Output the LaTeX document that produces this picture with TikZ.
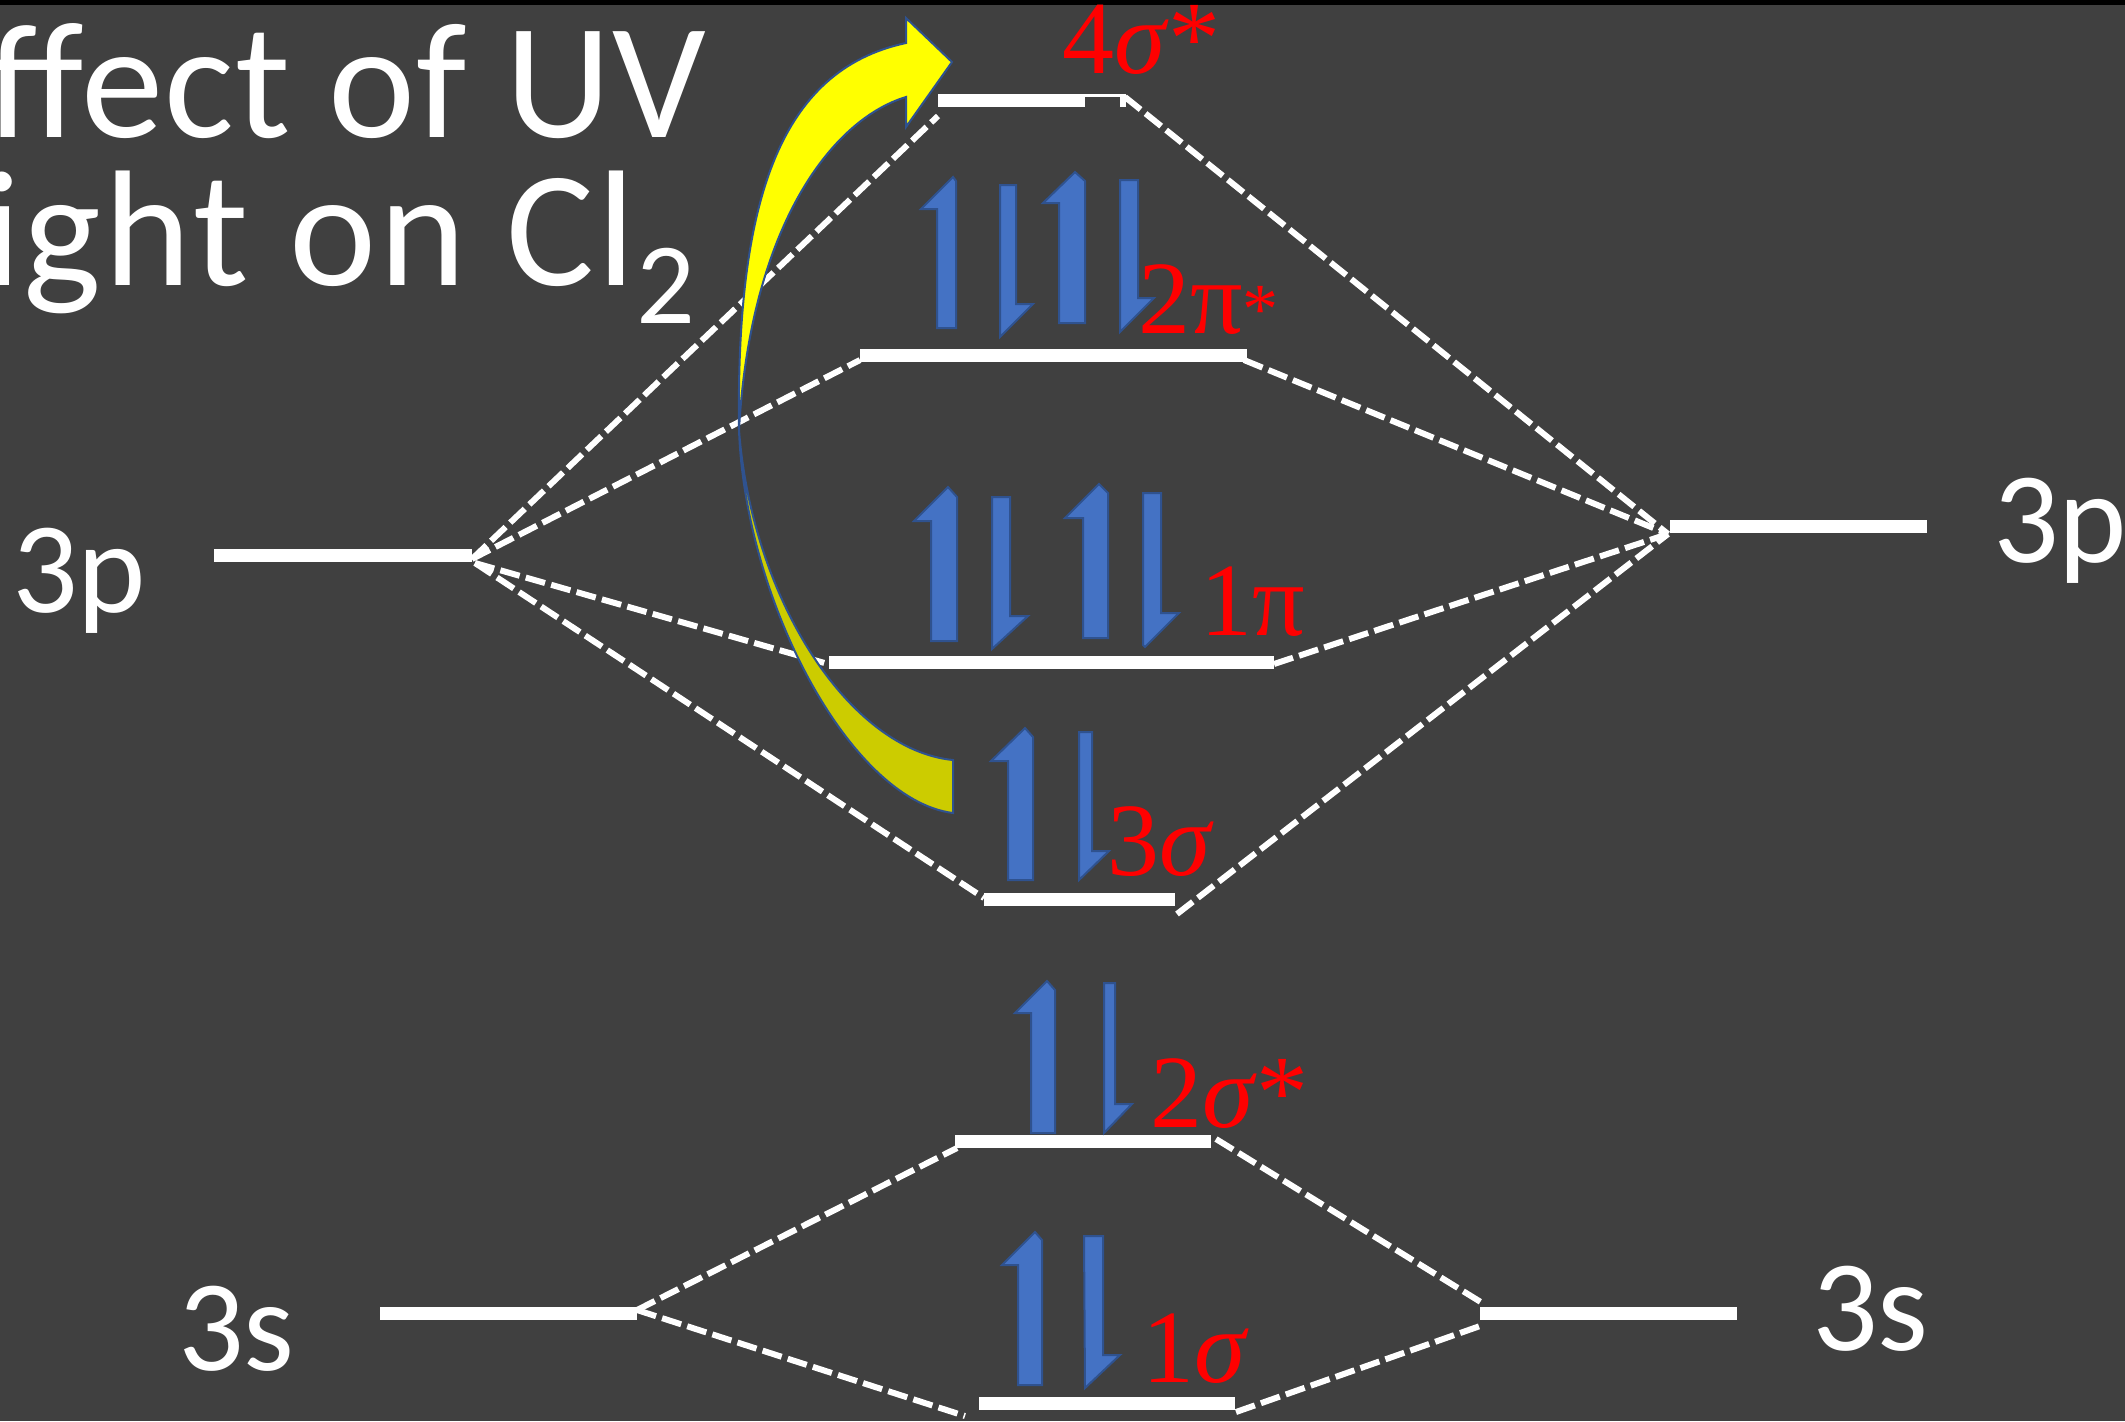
\documentclass[tikz,border=0pt]{standalone}
\usepackage{fontspec}
\setmainfont{Carlito}
\newfontfamily\lblfont{Liberation Serif}
\definecolor{bg}{HTML}{404040}
\definecolor{eblue}{HTML}{4472C4}
\definecolor{eedge}{HTML}{2F528F}
\definecolor{yel}{HTML}{FFFF00}
\definecolor{olive}{HTML}{CCCC00}
\tikzset{
  bar/.style={line width=6.5pt, white},
  link/.style={white, line width=3pt, dash pattern=on 10pt off 3.2pt},
  electron/.style={fill=eblue, draw=eedge, line width=1pt, line join=miter},
  lvl/.style={text=white, font=\fontsize{65}{65}\selectfont, inner sep=0pt, outer sep=0pt, anchor=base west},
  molab/.style={text=red, font=\lblfont\fontsize{52}{52}\selectfont, inner sep=0pt, outer sep=0pt, anchor=base west},
  ttl/.style={text=white, font=\fontsize{82.5}{82.5}\selectfont, inner sep=0pt, outer sep=0pt, anchor=base west},
  uvarrow/.style={draw=eedge, line width=1pt, line join=miter},
}
\begin{document}
\begin{tikzpicture}[x=0.5pt,y=-0.5pt]
\useasboundingbox (0,0) rectangle (2125,1421);
\clip (0,0) rectangle (2125,1421);
\fill[bg] (0,0) rectangle (2125,1421);
\fill[black] (0,0) rectangle (2125,5);

% title
\node[ttl] (t1) at (-12,137) {\addfontfeature{LetterSpace=0.6}ffect of UV};
\node[ttl] (t2) at (-17,285) {\addfontfeature{LetterSpace=2}ight on Cl\raisebox{-19pt}{\fontsize{58}{58}\selectfont 2}};

% atomic levels
\coordinate (L3pa) at (214,555);  \coordinate (L3pb) at (472,555);
\coordinate (R3pa) at (1670,526); \coordinate (R3pb) at (1927,526);
\coordinate (L3sa) at (380,1313); \coordinate (L3sb) at (637,1313);
\coordinate (R3sa) at (1480,1313);\coordinate (R3sb) at (1737,1313);
% molecular levels
\coordinate (s4a) at (938,100);  \coordinate (s4b) at (1126,100);
\coordinate (p2a) at (860,355);  \coordinate (p2b) at (1247,355);
\coordinate (p1a) at (829,662);  \coordinate (p1b) at (1274,662);
\coordinate (s3a) at (984,899);  \coordinate (s3b) at (1175,899);
\coordinate (s2a) at (955,1141); \coordinate (s2b) at (1211,1141);
\coordinate (s1a) at (979,1403); \coordinate (s1b) at (1235,1403);

% connector end points
\coordinate (Lf1) at (472,559); \coordinate (Lf2) at (475,563);
\coordinate (Rf) at (1668,534);
\coordinate (Lsf) at (637,1310);
\coordinate (s4al) at (938,116); \coordinate (s4br) at (1125,97);
\coordinate (p2al) at (860,360); \coordinate (p2br) at (1244,360);
\coordinate (p1al) at (828,664); \coordinate (p1br) at (1274,664);
\coordinate (s3al) at (984,898); \coordinate (s3br) at (1177,914);
\coordinate (s2al) at (957,1148);\coordinate (s2br) at (1216,1139);
\coordinate (s1al) at (965,1416);\coordinate (s1br) at (1236,1412);
\coordinate (R3su) at (1484,1304);\coordinate (R3sd) at (1480,1326);

% dashed correlation lines
\draw[link] (Lf1) -- (s4al);
\draw[link] (Lf1) -- (p2al);
\draw[link] (Lf2) -- (p1al);
\draw[link] (Lf2) -- (s3al);
\draw[link] (s4br) -- (Rf);
\draw[link] (p2br) -- (Rf);
\draw[link] (p1br) -- (Rf);
\draw[link] (s3br) -- (Rf);
\draw[link] (Lsf) -- (s2al);
\draw[link] (Lsf) -- (s1al);
\draw[link] (s2br) -- (R3su);
\draw[link] (s1br) -- (R3sd);

% level bars
\draw[bar] (L3pa) -- (L3pb);
\draw[bar] (R3pa) -- (R3pb);
\draw[bar] (L3sa) -- (L3sb);
\draw[bar] (R3sa) -- (R3sb);
\draw[bar] (s4a) -- (s4b);
\fill[bg] (1085,97) rectangle (1120,108);
\draw[bar] (p2a) -- (p2b);
\draw[bar] (p1a) -- (p1b);
\draw[bar] (s3a) -- (s3b);
\draw[bar] (s2a) -- (s2b);
\draw[bar] (s1a) -- (s1b);

% atomic labels
\node[lvl] (l3p) at (12,612) {3p};
\node[lvl] (r3p) at (1993,562) {3p};
\node[lvl] (l3s) at (178,1370) {3s};
\node[lvl] (r3s) at (1812,1350) {3s};

% MO labels
\node[molab] (m4s) at (1062,73) {4\textit{σ}*};
\node[molab] (m2p) at (1138,333) {2π{\fontsize{36}{36}\selectfont *}};
\node[molab] (m1p) at (1200,635) {1π};
\node[molab] (m3s) at (1107,875) {3\textit{σ}};
\node[molab] (m2s) at (1150,1127) {2\textit{σ}*};
\node[molab] (m1s) at (1142,1382) {1\textit{σ}};

% electrons 2pi*
\draw[electron] (937,328) -- (937,209) -- (921,209) -- (953,177) -- (956,181) -- (956,328) -- cycle;
\draw[electron] (1000,185) -- (1016,185) -- (1016,304) -- (1033,304) -- (1000,337) -- cycle;
\draw[electron] (1059,323) -- (1059,203) -- (1043,203) -- (1075,172) -- (1085,181) -- (1085,323) -- cycle;
\draw[electron] (1120,180) -- (1138,180) -- (1138,298) -- (1154,298) -- (1120,332) -- cycle;
% electrons 1pi
\draw[electron] (931,641) -- (931,521) -- (914,521) -- (948,487) -- (957,497) -- (957,641) -- cycle;
\draw[electron] (992,497) -- (1010,497) -- (1010,616) -- (1028,616) -- (992,649) -- cycle;
\draw[electron] (1083,638) -- (1083,518) -- (1065,518) -- (1099,484) -- (1108,493) -- (1108,638) -- cycle;
\draw[electron] (1143,493) -- (1161,493) -- (1161,613) -- (1179,613) -- (1145,647) -- (1143,645) -- cycle;
% electrons 3sigma
\draw[electron] (1008,880) -- (1008,761) -- (991,761) -- (1025,728) -- (1033,737) -- (1033,880) -- cycle;
\draw[electron] (1079,732) -- (1092,732) -- (1092,851) -- (1109,851) -- (1079,880) -- cycle;
% electrons 2sigma*
\draw[electron] (1031,1133) -- (1031,1013) -- (1015,1013) -- (1047,981) -- (1055,990) -- (1055,1133) -- cycle;
\draw[electron] (1104,983) -- (1115,983) -- (1115,1104) -- (1132,1104) -- (1104,1133) -- cycle;
% electrons 1sigma
\draw[electron] (1018,1385) -- (1018,1265) -- (1002,1265) -- (1035,1232) -- (1042,1240) -- (1042,1385) -- cycle;
\draw[electron] (1084,1236) -- (1103,1236) -- (1103,1355) -- (1120,1355) -- (1085,1388) -- cycle;

% UV excitation arrow
\coordinate (tw) at (739,430);
\filldraw[uvarrow, fill=olive] (tw) .. controls (745,600) and (850,800) .. (953,813)
  -- (953,760) .. controls (850,750) and (752,600) .. (tw) -- cycle;
\filldraw[uvarrow, fill=yel] (tw) .. controls (736,200) and (780,70) .. (906,43)
  -- (906,18) -- (952,62) -- (906,127) -- (906,97)
  .. controls (830,120) and (750,230) .. (tw) -- cycle;
\end{tikzpicture}
\end{document}
